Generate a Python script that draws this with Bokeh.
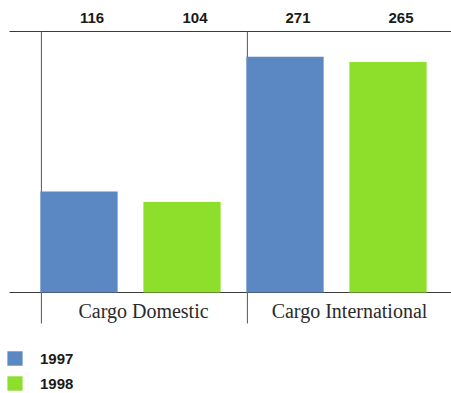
from bokeh.plotting import figure
from bokeh.models import Range1d, ColumnDataSource, Legend, LegendItem
from bokeh.core.properties import value
from bokeh.embed import file_html
from bokeh.resources import INLINE

# Cargo volumes per segment and year
categories = ["Cargo Domestic", "Cargo International"]
years = ["1997", "1998"]
values_1997 = [116, 271]
values_1998 = [104, 265]
scale_max = 300

colors = {"1997": "#5b87c2", "1998": "#8ddf2b"}
values_by_year = {"1997": values_1997, "1998": values_1998}

W, H = 451, 393

# vertical layout: zero line and scale in screen pixels
baseline_px = 292
px_per_unit = 261 / scale_max
y_start = -(H - baseline_px) / px_per_unit
y_end = baseline_px / px_per_unit
divider_bottom = -31 / px_per_unit

# horizontal layout: one slot per bar, slots laid side by side
slot_px = 103
first_center_px = 78.5
x_start = -first_center_px / slot_px
x_end = x_start + W / slot_px
rule_left = x_start + 9 / slot_px
bar_width = 0.75

n_years = len(years)


def slot(ci, yi):
    return ci * n_years + yi


p = figure(width=W, height=H, output_backend="svg", toolbar_location=None,
           x_range=Range1d(x_start, x_end), y_range=Range1d(y_start, y_end),
           min_border_left=0, min_border_right=0,
           min_border_top=0, min_border_bottom=0)
p.axis.visible = False
p.grid.visible = False
p.outline_line_color = None
p.background_fill_color = "white"
p.border_fill_color = "white"

# header rule and baseline
p.segment(x0=[rule_left, rule_left], x1=[x_end, x_end],
          y0=[scale_max, 0], y1=[scale_max, 0],
          line_color="#3a3a3a", line_width=1)

# vertical dividers at the left edge of each group
div_x = [slot(ci, 0) - 0.365 for ci in range(len(categories))]
p.segment(x0=div_x, x1=div_x, y0=scale_max, y1=divider_bottom,
          line_color="#555555", line_width=1)

renderers = {}
for yi, yr in enumerate(years):
    src = ColumnDataSource(dict(
        x=[slot(ci, yi) for ci in range(len(categories))],
        top=values_by_year[yr],
        label=[str(v) for v in values_by_year[yr]],
    ))
    renderers[yr] = p.vbar(x="x", top="top", bottom=0, width=bar_width,
                           source=src, fill_color=colors[yr], line_color=None)
    # value row above the header rule
    p.text(x="x", y=scale_max, text="label", source=src,
           x_offset=13, y_offset=-14,
           text_align="center", text_baseline="middle",
           text_font=value("Liberation Sans"), text_font_style="bold",
           text_font_size="15px", text_color="#1a1a1a")

# category names centred under their pair of bars
cat_src = ColumnDataSource(dict(
    x=[(slot(ci, 0) + slot(ci, n_years - 1)) / 2
       for ci in range(len(categories))],
    label=categories,
))
p.text(x="x", y=0, text="label", source=cat_src,
       x_offset=13, y_offset=18,
       text_align="center", text_baseline="middle",
       text_font=value("Liberation Serif"), text_font_size="20px",
       text_color="#2a2a2a")

legend = Legend(items=[LegendItem(label=yr, renderers=[renderers[yr]])
                       for yr in years],
                location=(5, 0), orientation="vertical",
                border_line_color=None, background_fill_alpha=0,
                padding=0, margin=0, spacing=5,
                glyph_width=19, glyph_height=18, label_height=20,
                label_standoff=16,
                label_text_font="Liberation Sans",
                label_text_font_style="bold",
                label_text_font_size="15px", label_text_color="#1a1a1a")
p.add_layout(legend)

open("out.html", "w").write(file_html(p, INLINE))
